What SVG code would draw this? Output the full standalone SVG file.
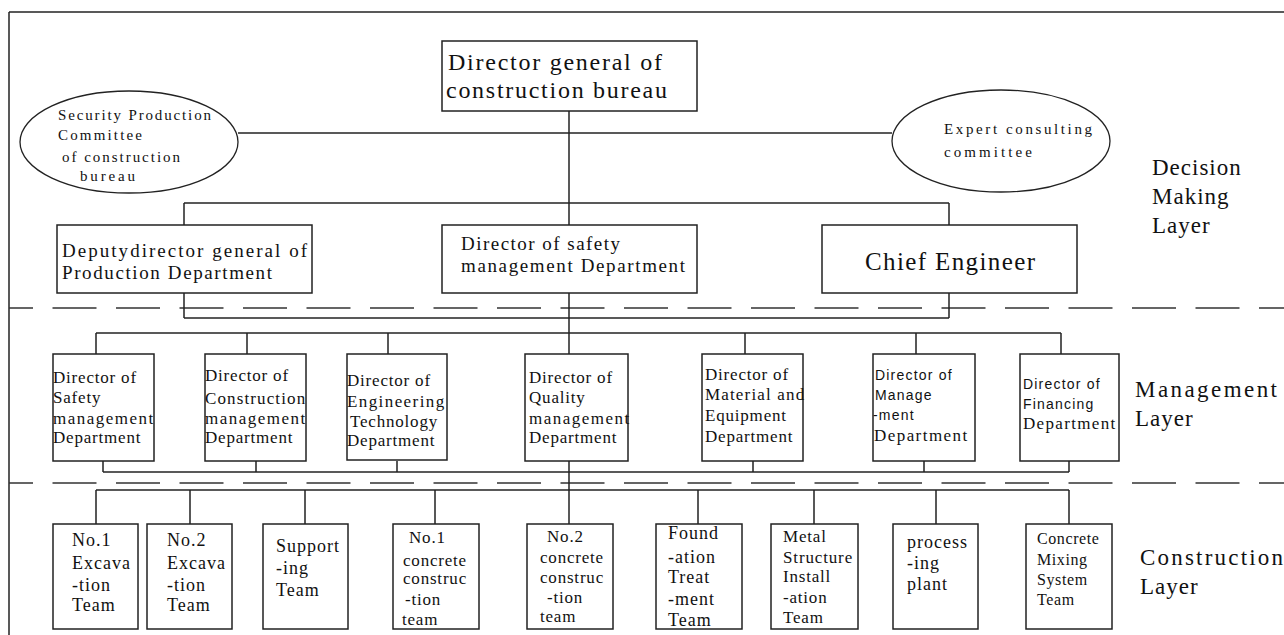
<svg xmlns="http://www.w3.org/2000/svg" width="1284" height="635" viewBox="0 0 1284 635">
<style>
text{font-family:"Liberation Serif","Times New Roman",serif;fill:#111}
.bx{fill:#fff;stroke:#222;stroke-width:1.5}
.el{fill:#fff;stroke:#222;stroke-width:1.3}
.ln{stroke:#222;stroke-width:1.5;fill:none}
.dash{stroke:#333;stroke-width:1.5;stroke-dasharray:44 19.5;stroke-dashoffset:20}
.big{font-size:24px}
.l2{font-size:19px}
.lay{font-size:23px;letter-spacing:1px}
.ell{font-size:15px}
.m{font-size:17px;letter-spacing:0.8px}
.ms{font-family:"Liberation Sans",Arial,sans-serif;font-size:14px;letter-spacing:1.2px}
.c{font-size:18px;letter-spacing:1px}
.c2{font-size:17px;letter-spacing:0.8px}
.c3{font-size:16px;letter-spacing:0.6px}
</style>
<g id="frame">
<line class="ln" x1="9" y1="12" x2="1284" y2="12"/>
<line class="ln" x1="9" y1="12" x2="9" y2="635"/>
</g>
<g id="layer-separators">
<line class="dash" x1="9" y1="308" x2="1284" y2="308"/>
<line class="dash" x1="9" y1="483" x2="1284" y2="483"/>
</g>
<g id="connectors">
<line class="ln" x1="238" y1="133" x2="892" y2="133"/>
<line class="ln" x1="569" y1="111" x2="569" y2="225"/>
<line class="ln" x1="184" y1="203" x2="949" y2="203"/>
<line class="ln" x1="184" y1="203" x2="184" y2="225"/>
<line class="ln" x1="949" y1="203" x2="949" y2="225"/>
<line class="ln" x1="184" y1="293" x2="184" y2="318"/>
<line class="ln" x1="949" y1="293" x2="949" y2="318"/>
<line class="ln" x1="184" y1="318" x2="949" y2="318"/>
<line class="ln" x1="569" y1="293" x2="569" y2="354"/>
<line class="ln" x1="96" y1="333" x2="1061" y2="333"/>
<path class="ln" d="M96 333V354M247 333V354M388 333V354M745 333V354M916 333V354M1061 333V354"/>
<path class="ln" d="M103 461V472M256 461V472M397 461V472M753 461V472M924 461V472M1069 461V472"/>
<line class="ln" x1="103" y1="472" x2="1069" y2="472"/>
<line class="ln" x1="569" y1="461" x2="569" y2="524"/>
<line class="ln" x1="96" y1="490" x2="1069" y2="490"/>
<path class="ln" d="M96 490V524M190 490V524M305 490V524M435 490V524M698 490V524M814 490V524M936 490V524M1069 490V524"/>
</g>
<g id="director-general">
<rect class="bx" x="442" y="41" width="255" height="70"/>
<text class="big" x="448" y="70" textLength="214">Director general of</text>
<text class="big" x="446" y="98" textLength="221">construction bureau</text>
</g>
<g id="security-committee">
<ellipse class="el" cx="129" cy="142" rx="109" ry="51"/>
<text class="ell" x="58" y="120" textLength="153">Security Production</text>
<text class="ell" x="58" y="140" textLength="84">Committee</text>
<text class="ell" x="62" y="162" textLength="118">of construction</text>
<text class="ell" x="80" y="181" textLength="55">bureau</text>
</g>
<g id="expert-committee">
<ellipse class="el" cx="1001" cy="141" rx="109" ry="51"/>
<text class="ell" x="944" y="134" textLength="148">Expert consulting</text>
<text class="ell" x="944" y="157" textLength="88">committee</text>
</g>
<g id="deputy-director">
<rect class="bx" x="57" y="225" width="255" height="68"/>
<text class="l2" x="62" y="257" textLength="245">Deputydirector general of</text>
<text class="l2" x="62" y="279" textLength="210">Production Department</text>
</g>
<g id="safety-director">
<rect class="bx" x="442" y="225" width="255" height="68"/>
<text class="l2" x="461" y="250" textLength="159">Director of safety</text>
<text class="l2" x="461" y="272" textLength="224">management Department</text>
</g>
<g id="chief-engineer">
<rect class="bx" x="822" y="225" width="255" height="68"/>
<text x="865" y="270" style="font-size:25px" textLength="170">Chief Engineer</text>
</g>
<g id="layer-labels">
<text class="lay" x="1152" y="175">Decision</text>
<text class="lay" x="1152" y="204">Making</text>
<text class="lay" x="1152" y="233">Layer</text>
<text class="lay" x="1135" y="397" textLength="143">Management</text>
<text class="lay" x="1135" y="426">Layer</text>
<text class="lay" x="1140" y="565" textLength="144">Construction</text>
<text class="lay" x="1140" y="594">Layer</text>
</g>
<g id="m-safety">
<rect class="bx" x="53" y="354" width="101" height="107"/>
<text class="m" x="53" y="383">Director of</text>
<text class="m" x="53" y="403">Safety</text>
<text class="m" x="53" y="424" textLength="101">management</text>
<text class="m" x="53" y="443">Department</text>
</g>
<g id="m-construction">
<rect class="bx" x="205" y="354" width="101" height="107"/>
<text class="m" x="205" y="381">Director of</text>
<text class="m" x="205" y="404" textLength="101">Construction</text>
<text class="m" x="205" y="424" textLength="101">management</text>
<text class="m" x="205" y="443">Department</text>
</g>
<g id="m-engineering">
<rect class="bx" x="347" y="354" width="100" height="106"/>
<text class="m" x="347" y="386">Director of</text>
<text class="m" x="347" y="407" textLength="98">Engineering</text>
<text class="m" x="350" y="427">Technology</text>
<text class="m" x="347" y="446">Department</text>
</g>
<g id="m-quality">
<rect class="bx" x="525" y="354" width="103" height="107"/>
<text class="m" x="529" y="383">Director of</text>
<text class="m" x="529" y="403">Quality</text>
<text class="m" x="529" y="424" textLength="101">management</text>
<text class="m" x="529" y="443">Department</text>
</g>
<g id="m-material">
<rect class="bx" x="702" y="354" width="101" height="107"/>
<text class="m" x="705" y="380">Director of</text>
<text class="m" x="705" y="400" textLength="100">Material and</text>
<text class="m" x="705" y="421">Equipment</text>
<text class="m" x="705" y="442">Department</text>
</g>
<g id="m-management">
<rect class="bx" x="873" y="354" width="102" height="107"/>
<text class="ms" x="875" y="380">Director of</text>
<text class="ms" x="875" y="400">Manage</text>
<text class="ms" x="873" y="420">-ment</text>
<text class="m" x="874" y="441" textLength="94">Department</text>
</g>
<g id="m-financing">
<rect class="bx" x="1020" y="354" width="99" height="107"/>
<text class="ms" x="1023" y="389">Director of</text>
<text class="ms" x="1023" y="409">Financing</text>
<text class="m" x="1023" y="429" textLength="93">Department</text>
</g>
<g id="c-excavation1">
<rect class="bx" x="53" y="524" width="85" height="105"/>
<text class="c" x="72" y="546">No.1</text>
<text class="c" x="72" y="569">Excava</text>
<text class="c" x="72" y="591">-tion</text>
<text class="c" x="72" y="611">Team</text>
</g>
<g id="c-excavation2">
<rect class="bx" x="147" y="524" width="85" height="105"/>
<text class="c" x="167" y="546">No.2</text>
<text class="c" x="167" y="569">Excava</text>
<text class="c" x="167" y="591">-tion</text>
<text class="c" x="167" y="611">Team</text>
</g>
<g id="c-supporting">
<rect class="bx" x="263" y="524" width="85" height="105"/>
<text class="c" x="276" y="552">Support</text>
<text class="c" x="276" y="574">-ing</text>
<text class="c" x="276" y="596">Team</text>
</g>
<g id="c-concrete1">
<rect class="bx" x="393" y="524" width="86" height="105"/>
<text class="c2" x="409" y="543">No.1</text>
<text class="c2" x="403" y="566">concrete</text>
<text class="c2" x="403" y="584">construc</text>
<text class="c2" x="405" y="605">-tion</text>
<text class="c2" x="402" y="625">team</text>
</g>
<g id="c-concrete2">
<rect class="bx" x="527" y="524" width="86" height="105"/>
<text class="c2" x="547" y="542">No.2</text>
<text class="c2" x="540" y="563">concrete</text>
<text class="c2" x="540" y="583">construc</text>
<text class="c2" x="547" y="603">-tion</text>
<text class="c2" x="540" y="622">team</text>
</g>
<g id="c-foundation">
<rect class="bx" x="656" y="524" width="86" height="105"/>
<text class="c" x="668" y="539">Found</text>
<text class="c" x="668" y="563">-ation</text>
<text class="c" x="668" y="583">Treat</text>
<text class="c" x="668" y="605">-ment</text>
<text class="c" x="668" y="626">Team</text>
</g>
<g id="c-metal">
<rect class="bx" x="771" y="524" width="87" height="105"/>
<text class="c2" x="783" y="542">Metal</text>
<text class="c2" x="783" y="563" textLength="70">Structure</text>
<text class="c2" x="783" y="582">Install</text>
<text class="c2" x="783" y="603">-ation</text>
<text class="c2" x="783" y="623">Team</text>
</g>
<g id="c-processing">
<rect class="bx" x="893" y="524" width="85" height="105"/>
<text class="c" x="907" y="548">process</text>
<text class="c" x="907" y="569">-ing</text>
<text class="c" x="907" y="590">plant</text>
</g>
<g id="c-mixing">
<rect class="bx" x="1026" y="524" width="86" height="105"/>
<text class="c3" x="1037" y="544">Concrete</text>
<text class="c3" x="1037" y="565">Mixing</text>
<text class="c3" x="1037" y="585">System</text>
<text class="c3" x="1037" y="605">Team</text>
</g>
</svg>
